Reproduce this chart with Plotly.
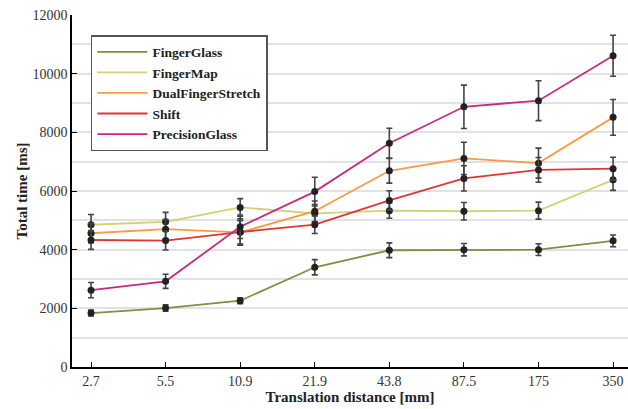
import plotly.graph_objects as go

categories = ["2.7", "5.5", "10.9", "21.9", "43.8", "87.5", "175", "350"]

finger_glass = [1840, 2010, 2260, 3400, 3980, 4000, 4000, 4300]
finger_glass_err = [100, 110, 100, 260, 250, 210, 200, 200]
finger_map = [4850, 4950, 5440, 5240, 5330, 5310, 5330, 6380]
finger_map_err = [350, 320, 300, 300, 260, 300, 290, 360]
dual_finger_stretch = [4560, 4700, 4590, 5310, 6690, 7110, 6950, 8510]
dual_finger_stretch_err = [330, 330, 400, 350, 420, 550, 510, 610]
shift = [4330, 4310, 4600, 4850, 5680, 6430, 6720, 6760]
shift_err = [320, 320, 450, 300, 330, 430, 420, 390]
precision_glass = [2620, 2920, 4780, 5980, 7630, 8870, 9080, 10610]
precision_glass_err = [260, 240, 400, 490, 510, 740, 680, 700]

series = [
    ("FingerGlass", finger_glass, finger_glass_err, "#8a8a40"),
    ("FingerMap", finger_map, finger_map_err, "#d6cf7a"),
    ("DualFingerStretch", dual_finger_stretch, dual_finger_stretch_err, "#fa9a45"),
    ("Shift", shift, shift_err, "#e03535"),
    ("PrecisionGlass", precision_glass, precision_glass_err, "#c92a80"),
]

FONT = "Liberation Serif"
fig = go.Figure()

for name, vals, errs, color in series:
    fig.add_trace(go.Scatter(
        x=categories, y=vals, mode="lines", name=name,
        line=dict(color=color, width=1.8),
    ))

for name, vals, errs, color in series:
    fig.add_trace(go.Scatter(
        x=categories, y=vals, mode="markers", showlegend=False,
        marker=dict(color="#222222", size=7),
        error_y=dict(type="data", array=errs, visible=True,
                     color="#444444", thickness=1.6, width=3),
    ))

fig.update_layout(
    width=628, height=409,
    margin=dict(l=72, r=0, t=15, b=42),
    plot_bgcolor="white", paper_bgcolor="white",
    font=dict(family=FONT, size=14, color="#333333"),
    legend=dict(
        x=0.034, y=0.943, xanchor="left", yanchor="top",
        bgcolor="white", bordercolor="#555555", borderwidth=1.5,
        font=dict(family=FONT, size=13.5, color="#222222", weight="bold"),
        tracegroupgap=0, itemwidth=50,
    ),
    showlegend=True,
)

fig.update_xaxes(
    type="category", range=[-0.255, 7.2],
    showline=True, linecolor="black", linewidth=1.5,
    ticks="inside", ticklen=5, tickcolor="black",
    showgrid=False, zeroline=False,
    tickfont=dict(family=FONT, size=14, color="#333333"),
    title=dict(text="<b>Translation distance [mm]</b>", standoff=0,
               font=dict(family=FONT, size=15, color="#222222")),
)

fig.update_yaxes(
    range=[0, 12000], dtick=2000, tick0=0, tickformat="d",
    showline=True, linecolor="black", linewidth=1.5,
    ticks="inside", ticklen=5, tickcolor="black",
    showgrid=True, gridcolor="#e2e2e2", gridwidth=1.5,
    minor=dict(dtick=1000, showgrid=True, gridcolor="#e2e2e2", gridwidth=1.5),
    zeroline=False,
    tickfont=dict(family=FONT, size=14, color="#333333"),
    title=dict(text="<b>Total time [ms]</b>", standoff=1,
               font=dict(family=FONT, size=15, color="#222222")),
)

fig.write_html(
    "out.html",
    config={"displayModeBar": False},
    post_script="document.body.style.margin='0';document.body.style.overflow='hidden';",
)
